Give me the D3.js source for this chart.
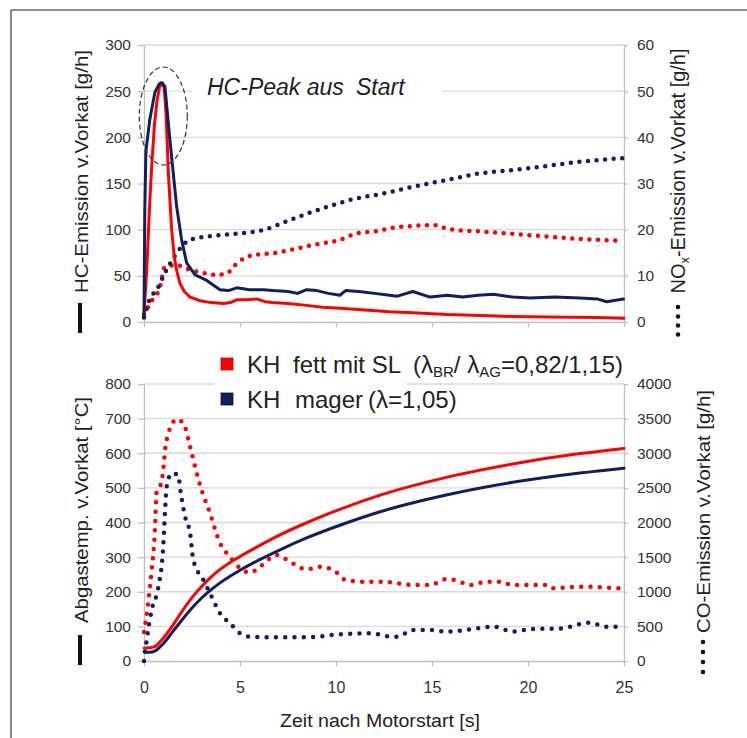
<!DOCTYPE html>
<html><head><meta charset="utf-8">
<script src="https://cdn.jsdelivr.net/npm/d3@7"></script>
<style>
body{margin:0;background:#fff;}
svg{display:block;font-family:"Liberation Sans",Arial,sans-serif;}
</style></head><body>
<svg id="c" width="747" height="738"></svg>
<script>
// ---------- data ----------
const xTicks = [0, 5, 10, 15, 20, 25];
const hcTicks = [0, 50, 100, 150, 200, 250, 300];
const noxTicks = [0, 10, 20, 30, 40, 50, 60];
const tempTicks = [0, 100, 200, 300, 400, 500, 600, 700, 800];
const coTicks = [0, 500, 1000, 1500, 2000, 2500, 3000, 3500, 4000];

const seriesNames = ["KH", "fett mit SL", "KH", "mager"];
const xTitle = "Zeit nach Motorstart [s]";
const peakLabel = ["HC-Peak aus", "Start"];

// HC emission [g/h] (solid, top chart, left axis)
const hcFett = [[0,7],[0.15,60],[0.3,130],[0.42,175],[0.55,215],[0.68,240],[0.8,254],[0.9,259],[1.05,254],[1.15,225],[1.27,161],[1.44,100],[1.58,70],[1.7,56],[1.87,42],[2.1,33],[2.4,27],[2.92,23],[3.5,21],[4.13,20],[4.5,21],[4.83,24],[5.3,24],[5.87,25],[6.3,22],[6.7,21],[7.5,20],[8.47,18],[9.3,16],[10.2,15],[11.5,13],[12.8,11],[14,10],[15.8,8],[17.5,7],[19.2,6],[21,5.5],[23.6,5],[25,4]];
const hcMager = [[0,5],[0.04,120],[0.1,185],[0.3,219],[0.57,249],[0.8,258],[0.95,259],[1.09,255],[1.35,197],[1.7,125],[1.96,89],[2.22,64],[2.66,51],[3.27,45],[3.6,40],[3.96,35],[4.4,34],[4.83,37],[5.5,35],[6.2,35],[6.73,34],[7.5,33],[8.0,31],[8.47,35],[9.0,34],[9.6,31],[10.2,29],[10.5,34],[11.2,33],[12,31],[12.8,29],[13.2,28],[14.0,33],[14.9,27],[15.8,29],[16.6,27],[17.4,29],[18.2,30],[19.2,27],[20.1,26],[21.4,27],[22.7,26],[23.6,25],[24.1,22],[24.97,25]];
// NOx emission [g/h] (dotted, top chart, right axis)
const noxFett = [[0,1.5],[0.31,4],[0.83,7.6],[1.09,12],[1.7,12.3],[2.4,11.3],[3.27,10.5],[3.79,10.2],[4.31,10.5],[4.83,12.7],[5.7,14.5],[6.73,14.9],[7.6,15.6],[8.82,16.7],[10.2,17.8],[11.08,19.2],[12.3,19.8],[12.8,20.3],[14,20.8],[15.05,21],[15.9,20.1],[17.5,19.6],[19.2,19.1],[21,18.5],[22.7,18.0],[24.8,17.6]];
const noxMager = [[0,1],[0.31,5],[0.66,7],[1.18,11.3],[1.7,14.9],[2.4,17.8],[3.27,18.5],[4.2,18.9],[5.0,19.2],[6.2,19.9],[7.6,22.1],[9.3,24.6],[11.1,26.8],[12.3,27.7],[14,29.3],[15.8,30.8],[17.5,32.2],[19.2,32.9],[21,33.8],[22.7,34.7],[25,35.5]];
// Exhaust temperature [°C] (solid, bottom chart, left axis)
const tempFett = [[0,37],[0.5,40],[1.0,66],[1.5,103],[2.0,145],[2.5,183],[3.0,215],[3.5,243],[4.0,266],[5.0,302],[6.0,333],[7.0,362],[8.5,400],[10.2,438],[12.3,479],[15.8,531],[19.2,569],[22.7,599],[25,614]];
const tempMager = [[0,27],[0.3,25],[0.6,30],[1.0,50],[1.5,85],[2.0,120],[2.5,153],[3.0,182],[3.5,206],[4.0,227],[5.0,262],[6.0,292],[7.0,319],[8.5,356],[10.2,392],[12.3,431],[15.8,480],[19.2,516],[22.7,543],[25,557]];
// CO emission [g/h] (dotted, bottom chart, right axis)
const coFett = [[0,420],[0.2,800],[0.4,1314],[0.55,1800],[0.66,2450],[0.85,2530],[1.0,2750],[1.1,3050],[1.27,3288],[1.45,3420],[1.7,3490],[2.05,3432],[2.4,3094],[2.66,2806],[3.0,2469],[3.44,2133],[3.96,1700],[4.48,1506],[5.0,1339],[5.52,1275],[6.04,1362],[6.91,1531],[7.6,1434],[8.47,1324],[9.17,1362],[9.86,1314],[10.5,1170],[11.6,1145],[12.6,1145],[13,1130],[14,1097],[14.9,1097],[15.7,1180],[16.2,1170],[17,1097],[17.85,1145],[18.5,1145],[19.2,1097],[21,1097],[21.3,1050],[22.7,1073],[24.8,1050]];
const coMager = [[0,0],[0.14,303],[0.4,736],[0.75,1073],[1.0,1650],[1.09,2133],[1.18,2517],[1.44,2710],[1.79,2686],[1.87,2517],[2.14,2084],[2.4,1844],[2.57,1458],[3.09,1170],[3.44,977],[3.96,689],[4.48,544],[5.0,400],[5.52,351],[6.73,342],[8.47,342],[10.2,385],[11.9,400],[12.6,361],[13.2,351],[14,448],[14.9,448],[15.8,424],[17,458],[18.2,496],[19.2,424],[20.1,458],[21.8,472],[22.7,534],[23.2,553],[24.1,496],[24.8,496]];

// ---------- drawing ----------
const RED = "#ff0000", BLUE = "#101f5e", GRID = "#d9d9d9", AX = "#bfbfbf", TXT = "#333";
const svg = d3.select("#c");
svg.append("rect").attr("width",747).attr("height",738).attr("fill","#fff");
// frame
svg.append("line").attr("x1",11).attr("x2",11).attr("y1",10).attr("y2",738).attr("stroke","#666").attr("stroke-width",1.5);
svg.append("line").attr("x1",11).attr("x2",747).attr("y1",10).attr("y2",10).attr("stroke","#666").attr("stroke-width",1.5);

const x = d3.scaleLinear().domain([0,25]).range([144,624]);
const yHC = d3.scaleLinear().domain([0,300]).range([322,45]);
const yNOx = d3.scaleLinear().domain([0,60]).range([322,45]);
const yT = d3.scaleLinear().domain([0,800]).range([661,384]);
const yCO = d3.scaleLinear().domain([0,4000]).range([661,384]);

function grid(ticks, y){
  svg.append("g").selectAll("line").data(ticks.slice(1)).join("line")
    .attr("x1",x(0)).attr("x2",x(25)).attr("y1",d=>y(d)).attr("y2",d=>y(d))
    .attr("stroke",GRID).attr("stroke-width",1.3);
}
grid(hcTicks, yHC);
grid(tempTicks, yT);

const plain = d => String(d);
function styleAxis(g, fs){
  g.select(".domain").attr("stroke",AX).attr("stroke-width",1.3);
  g.selectAll(".tick line").attr("stroke",AX).attr("stroke-width",1.3);
  g.selectAll(".tick text").attr("fill",TXT).attr("font-size",fs).attr("font-family","Liberation Sans, Arial, sans-serif");
}
// top chart axes
styleAxis(svg.append("g").attr("transform","translate(144,0)").call(d3.axisLeft(yHC).tickValues(hcTicks).tickFormat(plain).tickSize(6).tickSizeOuter(0).tickPadding(7)),15.5);
styleAxis(svg.append("g").attr("transform","translate(624,0)").call(d3.axisRight(yNOx).tickValues(noxTicks).tickFormat(plain).tickSize(4).tickSizeOuter(0).tickPadding(9)),15.5);
styleAxis(svg.append("g").attr("transform","translate(0,322)").call(d3.axisBottom(x).tickValues(xTicks).tickSize(5).tickSizeOuter(0).tickFormat("")),15.5);
// bottom chart axes
styleAxis(svg.append("g").attr("transform","translate(144,0)").call(d3.axisLeft(yT).tickValues(tempTicks).tickFormat(plain).tickSize(6).tickSizeOuter(0).tickPadding(7)),15.5);
styleAxis(svg.append("g").attr("transform","translate(624,0)").call(d3.axisRight(yCO).tickValues(coTicks).tickFormat(plain).tickSize(4).tickSizeOuter(0).tickPadding(9)),15.5);
styleAxis(svg.append("g").attr("transform","translate(0,661)").call(d3.axisBottom(x).tickValues(xTicks).tickFormat(plain).tickSize(5).tickSizeOuter(0).tickPadding(16)),16);

// white boxes behind annotation / legend
svg.append("rect").attr("x",192).attr("y",70).attr("width",250).attr("height",38).attr("fill","#fff");
svg.append("rect").attr("x",214).attr("y",345).attr("width",193).attr("height",69).attr("fill","#fff");

const mk = (y, curve) => d3.line().x(d=>x(d[0])).y(d=>y(d[1])).curve(curve);
function solid(data, y, color, curve){
  svg.append("path").attr("d",mk(y,curve)(data)).attr("fill","none").attr("stroke",color)
    .attr("stroke-width",3).attr("stroke-linejoin","round").attr("stroke-linecap","round");
}
function dotted(data, y, color, gap){
  svg.append("path").attr("d",mk(y,d3.curveMonotoneX)(data)).attr("fill","none").attr("stroke",color)
    .attr("stroke-width",4.5).attr("stroke-linecap","round").attr("stroke-dasharray","0 "+gap);
}
// top chart
dotted(noxFett, yNOx, RED, 8.6);
dotted(noxMager, yNOx, BLUE, 8.6);
solid(hcFett, yHC, RED, d3.curveLinear);
solid(hcMager, yHC, BLUE, d3.curveLinear);
// bottom chart
solid(tempFett, yT, RED, d3.curveMonotoneX);
solid(tempMager, yT, BLUE, d3.curveMonotoneX);
dotted(coFett, yCO, RED, 9.3);
dotted(coMager, yCO, BLUE, 9.3);

// peak ellipse + label
svg.append("ellipse").attr("cx",163.3).attr("cy",116).attr("rx",24).attr("ry",49)
  .attr("fill","none").attr("stroke","#333").attr("stroke-width",1.2).attr("stroke-dasharray","5 3");
const pk = svg.append("text").attr("y",95).attr("font-size",23).attr("font-style","italic").attr("fill","#1c1c30");
pk.append("tspan").attr("x",207).text(peakLabel[0]);
pk.append("tspan").attr("x",356).text(peakLabel[1]);

// legend
svg.append("rect").attr("x",221).attr("y",358).attr("width",12).attr("height",12).attr("fill",RED).attr("stroke","#c00").attr("stroke-width",0.8);
svg.append("rect").attr("x",221).attr("y",393).attr("width",12).attr("height",12).attr("fill",BLUE).attr("stroke","#0a1440").attr("stroke-width",0.8);
const l1 = svg.append("text").attr("y",373).attr("font-size",24).attr("fill","#222");
l1.append("tspan").attr("x",247).text(seriesNames[0]);
l1.append("tspan").attr("x",293).text(seriesNames[1]);
l1.append("tspan").attr("x",413).text("(λ");
l1.append("tspan").attr("font-size",15).attr("dy",4).text("BR");
l1.append("tspan").attr("dy",-4).text("/ λ");
l1.append("tspan").attr("font-size",15).attr("dy",4).text("AG");
l1.append("tspan").attr("dy",-4).text("=0,82/1,15)");
const l2 = svg.append("text").attr("y",408).attr("font-size",24).attr("fill","#222");
l2.append("tspan").attr("x",247).text(seriesNames[2]);
l2.append("tspan").attr("x",295).text(seriesNames[3]);
l2.append("tspan").attr("x",368).text("(λ=1,05)");

// axis titles
function vtitle(txt, bx, cy, len){
  svg.append("text").attr("transform",`translate(${bx},${cy}) rotate(-90)`).attr("text-anchor","middle")
    .attr("font-size",18).attr("fill","#222").attr("textLength",len).attr("lengthAdjust","spacingAndGlyphs").text(txt);
}
vtitle("HC-Emission v.Vorkat [g/h]", 88, 171.5, 243);
vtitle("Abgastemp. v.Vorkat [°C]", 88, 510, 226);
vtitle("CO-Emission v.Vorkat [g/h]", 710, 511.5, 243);
const nt = svg.append("text").attr("transform","translate(685,171) rotate(-90)").attr("text-anchor","middle")
  .attr("font-size",20).attr("fill","#222");
nt.append("tspan").text("NO");
nt.append("tspan").attr("font-size",13).attr("dy",4).text("x");
nt.append("tspan").attr("dy",-4).text("-Emission v.Vorkat [g/h]");

// series-type markers next to axis titles
svg.append("rect").attr("x",78).attr("y",303).attr("width",4).attr("height",30).attr("fill","#111");
svg.append("rect").attr("x",78).attr("y",635).attr("width",4).attr("height",30).attr("fill","#111");
svg.append("g").selectAll("circle").data([307,316.5,325.5,334.5]).join("circle")
  .attr("cx",678).attr("cy",d=>d).attr("r",2.3).attr("fill","#111");
svg.append("g").selectAll("circle").data([642,652,662,672]).join("circle")
  .attr("cx",703).attr("cy",d=>d).attr("r",2.3).attr("fill","#111");

// x title
svg.append("text").attr("x",380).attr("y",727).attr("text-anchor","middle").attr("font-size",18)
  .attr("fill","#222").attr("textLength",200).attr("lengthAdjust","spacingAndGlyphs").text(xTitle);
</script>
</body></html>
